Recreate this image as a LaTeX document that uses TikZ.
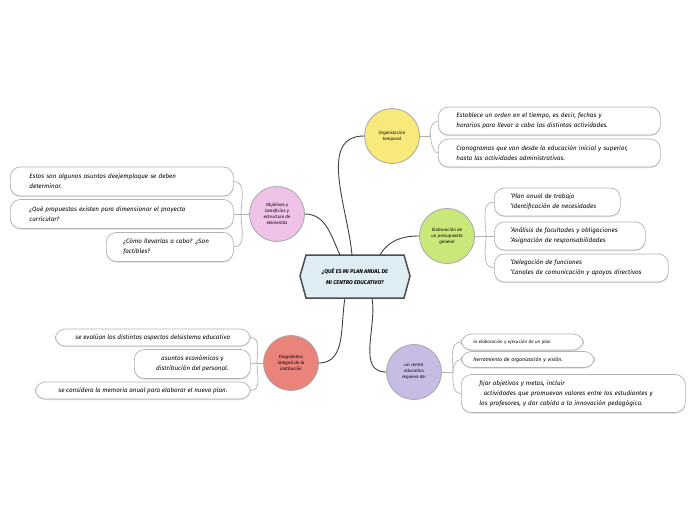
\documentclass[tikz,border=0pt]{standalone}
\usepackage{fontspec}
\setmainfont{Fira Sans}
\usetikzlibrary{shadows}
\definecolor{cy}{HTML}{F7EA7A}
\definecolor{cg}{HTML}{C9E879}
\definecolor{cp}{HTML}{C6BCE4}
\definecolor{ck}{HTML}{F0C2E8}
\definecolor{cr}{HTML}{EA847A}
\definecolor{ch}{HTML}{DFEEF5}
\begin{document}
\begin{tikzpicture}[x=1pt,y=-1pt,
 circ/.style={circle,draw=gray!70,line width=0.8pt,minimum size=55pt,inner sep=0pt,align=center,font=\itshape\fontsize{4.5}{6}\selectfont},
 leaf/.style={draw=gray!60,line width=0.7pt,rounded corners=10pt,fill=white,align=left,font=\itshape\fontsize{6.3}{10}\selectfont,inner xsep=0pt,anchor=west,drop shadow={shadow xshift=0pt,shadow yshift=-1pt,opacity=0.3}},
 conn/.style={draw=black!75,line width=0.9pt},
 br/.style={draw=gray!60,line width=0.7pt}]
\useasboundingbox (0,0) rectangle (696,520);
\coordinate (hc) at (355,276);
\path[draw=black!70,line width=1.5pt,fill=ch] (300,276)--(306,255)--(404,255)--(410,276)--(404,298)--(306,298)--cycle;
\node[font=\itshape\bfseries\fontsize{5.5}{11}\selectfont,align=center] (hex) at (hc) {¿QUÉ ES MI PLAN ANUAL DE\\MI CENTRO EDUCATIVO?};
\node[circ,fill=cy] (y) at (392,136) {Organización\\temporal};
\node[circ,fill=cg] (g) at (447,236) {Elaboración de\\un presupuesto\\general};
\node[circ,fill=cp] (p) at (414,372) {un centro\\educativo\\requiere de:};
\node[circ,fill=ck] (k) at (277,214) {Objetivos y\\beneficios y\\estructura de\\elementos};
\node[circ,fill=cr] (r) at (291,363) {Diagnóstico\\integral de la\\institución};
\draw[conn] (352,255) to[out=95,in=180] (y.west);
\draw[conn] (380,255) to[out=60,in=180] (g.west);
\draw[conn] (372,298) to[out=-80,in=180] (p.west);
\draw[conn] (340,255) to[out=115,in=0] (k.east);
\draw[conn] (345,298) to[out=-100,in=0] (r.east);
% yellow leaves
\node[leaf,minimum height=28pt,inner xsep=18pt,text width=186pt] (y1) at (438,121) {Establece un orden en el tiempo, es decir, fechas y\\horarios para llevar a cabo las distintas actividades.};
\node[leaf,minimum height=28pt,inner xsep=18pt,text width=186pt] (y2) at (438,153) {Cronogramas que van desde la educación inicial y superior,\\hasta las actividades administrativas.};
\coordinate (yb) at (430,136);
\draw[br] (y.east)--(yb);
\foreach \n in {y1,y2} \draw[br] (yb) to[out=90,in=180] (\n.west);
% green
\node[leaf,minimum height=28pt,inner xsep=16pt,text width=94pt] (g1) at (494,202) {'Plan anual de trabajo\\'Identificación de necesidades};
\node[leaf,minimum height=28pt,inner xsep=16pt,text width=119pt] (g2) at (494,236) {'Análisis de facultades y obligaciones\\'Asignación de responsabilidades};
\node[leaf,minimum height=28pt,inner xsep=16pt,text width=142pt] (g3) at (494,268) {'Delegación de funciones\\'Canales de comunicación y apoyos directivos};
\coordinate (gb) at (486,236);
\draw[br] (g.east)--(gb);
\draw[br] (gb) to[out=90,in=180] (g1.west);
\draw[br] (gb)--(g2.west);
\draw[br] (gb) to[out=-90,in=180] (g3.west);
% purple
\node[leaf,minimum height=16pt,inner xsep=12pt,text width=98pt,font=\itshape\fontsize{4.5}{7}\selectfont] (p1) at (461,342) {la elaboración y ejecución de un plan};
\node[leaf,minimum height=16pt,inner xsep=12pt,text width=109pt,font=\itshape\fontsize{5.2}{7}\selectfont] (p2) at (461,359.5) {herramienta de organización y visión.};
\node[leaf,minimum height=38pt,inner xsep=18pt,text width=188pt] (p3) at (461,393.5) {fijar objetivos y metas, incluir\\\ \ actividades que promuevan valores entre los estudiantes y\\los profesores, y dar cabida a la innovación pedagógica.};
\coordinate (pb) at (453,372);
\draw[br] (p.east)--(pb);
\draw[br] (pb) to[out=90,in=180] (p1.west);
\draw[br] (pb) to[out=90,in=180] (p2.west);
\draw[br] (pb) to[out=-90,in=180] (p3.west);
% pink
\node[leaf,minimum height=29pt,inner xsep=19pt,text width=185pt] (k1) at (10,181.5) {Estos son algunos asuntos deejemploque se deben\\determinar.};
\node[leaf,minimum height=29pt,inner xsep=19pt,text width=185pt] (k2) at (10,214) {¿Qué propuestas existen para dimensionar el proyecto\\curricular?};
\node[leaf,minimum height=29pt,inner xsep=17pt,text width=93pt] (k3) at (106,247) {¿Cómo llevarlas a cabo? ¿Son\\factibles?};
\coordinate (kb) at (241,214);
\draw[br] (k.west)--(kb);
\draw[br] (kb) to[out=90,in=0] (k1.east);
\draw[br] (kb)--(k2.east);
\draw[br] (kb) to[out=-90,in=0] (k3.east);
% red
\node[leaf,minimum width=195pt,minimum height=17pt,align=center] (r1) at (55,337.5) {se evalúan los distintos aspectos delsistema educativo};
\node[leaf,minimum width=116pt,minimum height=29pt,align=center] (r2) at (134,364) {asuntos económicos y\\distribución del personal.};
\node[leaf,minimum width=215pt,minimum height=17pt,align=center] (r3) at (35,390.5) {se considera la memoria anual para elaborar el nuevo plan.};
\coordinate (rb) at (257,363);
\draw[br] (r.west)--(rb);
\draw[br] (rb) to[out=90,in=0] (r1.east);
\draw[br] (rb)--(r2.east);
\draw[br] (rb) to[out=-90,in=0] (r3.east);
\end{tikzpicture}
\end{document}
